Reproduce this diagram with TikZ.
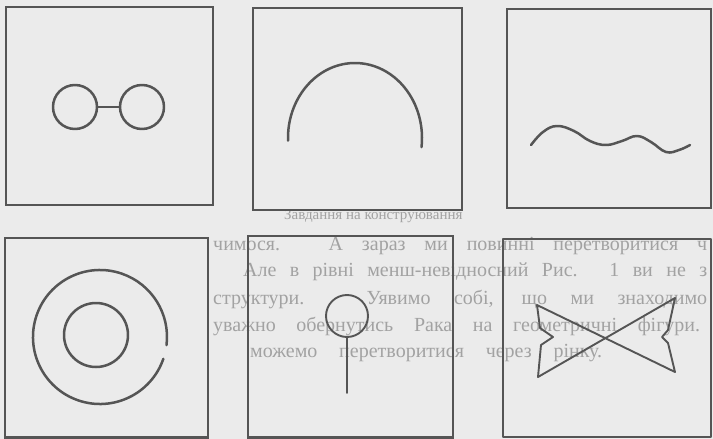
\documentclass[tikz,border=0pt]{standalone}
\usepackage{fontspec}
\setmainfont{Liberation Serif}
\definecolor{paper}{HTML}{EBEBEB}
\definecolor{ink}{HTML}{555555}
\definecolor{ghost}{HTML}{A2A2A2}
\tikzset{
  frame/.style={draw=ink, line width=2.6pt},
  figline/.style={draw=ink, line width=2.5pt, line cap=round, line join=round},
  thinline/.style={draw=ink, line width=1.9pt, line cap=round, line join=round},
  bleed/.style={text=ghost, anchor=base west, inner sep=0pt, font=\fontsize{20}{22}\selectfont},
}
\begin{document}
\begin{tikzpicture}[x=1pt, y=-1pt]
\useasboundingbox (0,0) rectangle (713,439);
\fill[paper] (0,0) rectangle (713,439);
\clip (0,0) rectangle (713,439);

% faint text showing through the page
\node[bleed, font=\fontsize{15}{17}\selectfont] (t0) at (284,219) {Завдання на конструювання};
\node[bleed] (t1) at (213,250) {\makebox[494pt][s]{чимося. А зараз ми повинні перетворитися ч}};
\node[bleed] (t2) at (243,276) {\makebox[464pt][s]{Але в рівні менш-невідносний Рис. 1 ви не з}};
\node[bleed] (t3) at (213,304) {\makebox[494pt][s]{структури. Уявимо собі, що ми знаходимо}};
\node[bleed] (t4) at (213,331) {\makebox[487pt][s]{уважно обернутись Рака на геометричні фігури.}};
\node[bleed] (t5) at (250,357) {\makebox[352pt][s]{можемо перетворитися через рінку.}};

% frames
\draw[frame] (6,7) rectangle (213,205);
\draw[frame] (253,8) rectangle (462,210);
\draw[frame] (507,9) rectangle (711,208);
\draw[frame] (5,238) rectangle (208,437.5);
\draw[frame] (248,236) rectangle (453,437.5);
\draw[thinline] (503,239) rectangle (711,437);

% 1: glasses
\node[circle, figline, minimum size=44pt, inner sep=0pt] (lens1) at (75,107) {};
\node[circle, figline, minimum size=44pt, inner sep=0pt] (lens2) at (142,107) {};
\draw[figline, line width=1.8pt] (lens1.east) -- (lens2.west);

% 2: arc
\draw[figline] (355,138) ++(178:67 and 75) arc[start angle=178, end angle=367, x radius=67, y radius=75];

% 3: wave
\draw[figline] plot[smooth, tension=0.7] coordinates {(531,145) (543,132) (557,126) (574,131) (590,141) (606,145) (622,141) (637,136) (651,142) (666,152) (679,150) (690,145)};

% 4: rings
\draw[figline] (100,337) ++(19:67) arc[start angle=19, end angle=367, radius=67];
\draw[figline] (96,335) circle[radius=32];

% 5: key
\node[circle, thinline, minimum size=42pt, inner sep=0pt] (head) at (347,316) {};
\coordinate (tip) at (347,393);
\draw[thinline] (head.south) -- (tip);

% 6: bow tie
\draw[thinline] (537,305) -- (675,372) -- (668,343) -- (662,337) -- (668,330) -- (675,298)
  -- (538,377) -- (541,345) -- (553,337) -- (540,328) -- cycle;
\end{tikzpicture}
\end{document}
